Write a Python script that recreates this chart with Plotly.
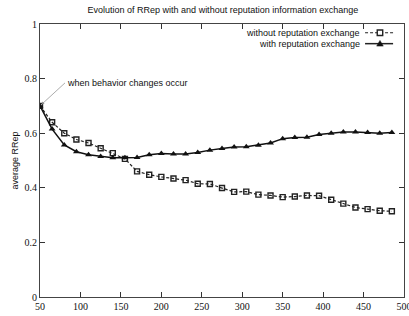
import plotly.graph_objects as go

x_vals = [50, 65, 80, 95, 110, 125, 140, 155, 170, 185, 200, 215, 230, 245, 260,
          275, 290, 305, 320, 335, 350, 365, 380, 395, 410, 425, 440, 455, 470, 485]
without_exchange = [0.70, 0.64, 0.60, 0.577, 0.564, 0.545, 0.527, 0.506, 0.46, 0.448,
                    0.44, 0.434, 0.428, 0.415, 0.414, 0.399, 0.385, 0.386, 0.375, 0.372,
                    0.366, 0.368, 0.372, 0.371, 0.356, 0.342, 0.328, 0.322, 0.316, 0.314]
with_exchange = [0.70, 0.615, 0.557, 0.532, 0.521, 0.515, 0.51, 0.51, 0.511, 0.521,
                 0.526, 0.524, 0.524, 0.529, 0.538, 0.544, 0.549, 0.55, 0.556, 0.564,
                 0.58, 0.584, 0.585, 0.595, 0.60, 0.604, 0.604, 0.603, 0.60, 0.603]
series_names = ["without reputation exchange", "with reputation exchange"]
x_ticks = [50, 100, 150, 200, 250, 300, 350, 400, 450, 500]
y_ticks = [0, 0.2, 0.4, 0.6, 0.8, 1]
y_tick_labels = ["0", "0.2", "0.4", "0.6", "0.8", "1"]
title_text = "Evolution of RRep with and without reputation information exchange"
y_title = "average RRep"
annotation_text = "when behavior changes occur"

sans = "Liberation Sans, Arial, sans-serif"
serif = "Liberation Serif, Times New Roman, serif"

fig = go.Figure()
fig.add_trace(go.Scatter(
    x=x_vals, y=without_exchange, mode="lines+markers", name=series_names[0],
    line=dict(color="#222222", width=1.2, dash="3px,2px"),
    marker=dict(symbol="square-open", size=5, color="#222222", line=dict(width=1.4)),
))
fig.add_trace(go.Scatter(
    x=x_vals, y=with_exchange, mode="lines+markers", name=series_names[1],
    line=dict(color="#111111", width=1.5),
    marker=dict(symbol="triangle-up", size=6, color="#111111"),
))

axis_common = dict(
    showgrid=False, zeroline=False, showline=True, linecolor="#444444", linewidth=1,
    mirror="ticks", ticks="inside", ticklen=5, tickcolor="#333333",
    tickfont=dict(family=serif, size=10, color="#111111"),
    automargin=False, ticklabeloverflow="allow",
)
fig.update_xaxes(range=[50, 500], tickvals=x_ticks, **axis_common)
fig.update_yaxes(range=[0, 1], tickvals=y_ticks, ticktext=y_tick_labels,
                 title=dict(text=y_title, font=dict(family=sans, size=9, color="#111111"),
                            standoff=4),
                 **axis_common)

# Legend drawn manually (text right-aligned, sample on the right)
legend_rows = [(0.968, "square"), (0.928, "triangle")]
shapes = []
annotations = []
mx = 0.934
for (yy, kind), name in zip(legend_rows, series_names):
    annotations.append(dict(xref="paper", yref="paper", x=0.884, y=yy, text=name,
                            showarrow=False, xanchor="right", yanchor="middle",
                            font=dict(family=sans, size=9, color="#111111")))
    shapes.append(dict(type="line", xref="paper", yref="paper", x0=0.893, x1=0.970,
                       y0=yy, y1=yy,
                       line=dict(color="#222222", width=1.2 if kind == "square" else 1.5,
                                 dash="3px,2px" if kind == "square" else "solid")))
    if kind == "square":
        shapes.append(dict(type="rect", xref="paper", yref="paper",
                           x0=mx - 0.0075, x1=mx + 0.0075, y0=yy - 0.010, y1=yy + 0.010,
                           fillcolor="white", line=dict(color="#222222", width=1.4)))
    else:
        shapes.append(dict(type="path", xref="paper", yref="paper",
                           path=f"M {mx-0.009},{yy-0.009} L {mx+0.009},{yy-0.009} L {mx},{yy+0.012} Z",
                           fillcolor="#111111", line=dict(color="#111111", width=0.5)))

annotations.append(dict(x=50, y=0.70, xref="x", yref="y", text=annotation_text,
                        showarrow=True, arrowhead=2, arrowsize=0.8, arrowwidth=0.7,
                        arrowcolor="#888888", ax=25, ay=-23, xanchor="left",
                        yanchor="middle", standoff=2,
                        font=dict(family=sans, size=9, color="#111111")))

fig.update_layout(
    width=409, height=316,
    margin=dict(l=40, r=5, t=24, b=19),
    paper_bgcolor="white", plot_bgcolor="white",
    showlegend=False,
    title=dict(text=title_text, x=0.545, xanchor="center", y=0.968, yanchor="middle",
               font=dict(family=sans, size=9, color="#111111")),
    shapes=shapes, annotations=annotations,
)

fig.write_html("out.html", config={"displayModeBar": False},
               post_script="document.body.style.margin='0px';")
